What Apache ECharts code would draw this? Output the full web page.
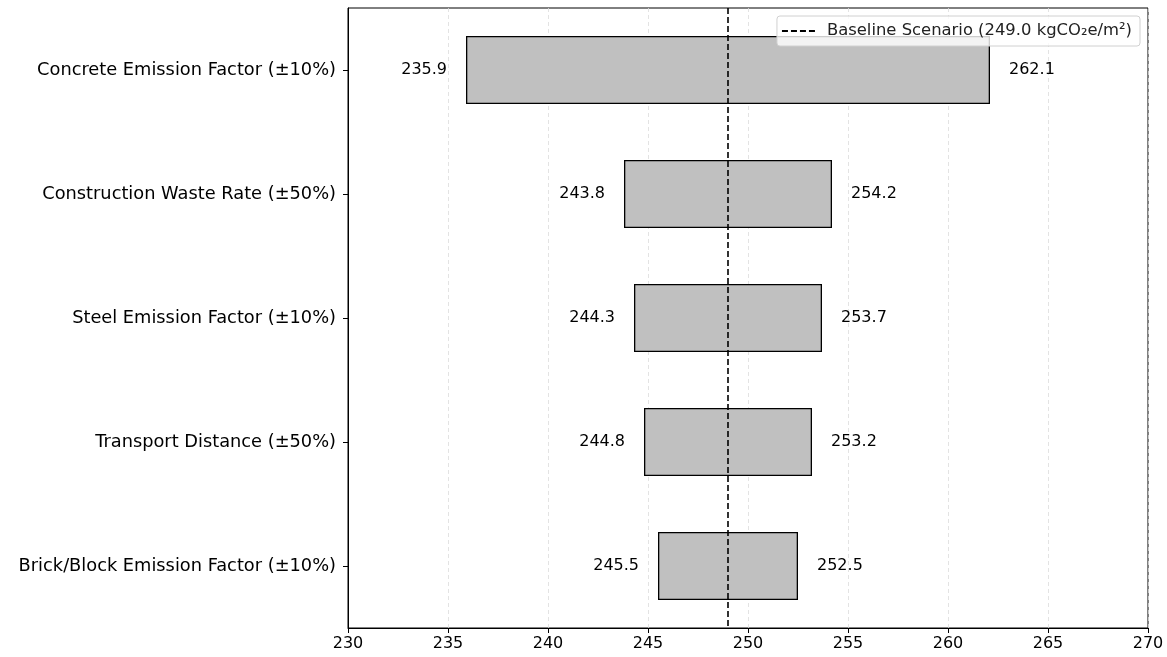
<!DOCTYPE html>
<html>
<head>
<meta charset="utf-8">
<script src="https://cdn.jsdelivr.net/npm/echarts@6/dist/echarts.min.js"></script>
<style>
  html, body { margin: 0; padding: 0; background: #fff; }
  #chart { width: 1167px; height: 657px; }
</style>
</head>
<body>
<div id="chart"></div>
<script>
const categories = [
  'Concrete Emission Factor (±10%)',
  'Construction Waste Rate (±50%)',
  'Steel Emission Factor (±10%)',
  'Transport Distance (±50%)',
  'Brick/Block Emission Factor (±10%)'
]
const lowValues = [235.9, 243.8, 244.3, 244.8, 245.5]
const highValues = [262.1, 254.2, 253.7, 253.2, 252.5]
const baseline = 249.0
const xTicks = [230, 270, 5]
const baselineName = 'Baseline Scenario (249.0 kgCO₂e/m²)'

const font = 'DejaVu Sans'
const spans = highValues.map((h, i) => +(h - lowValues[i]).toFixed(2))

const chart = echarts.init(document.getElementById('chart'))
chart.setOption({
  animation: false,
  textStyle: { fontFamily: font },
  grid: {
    left: 348, right: 19, top: 8, bottom: 29, containLabel: false,
    show: true, borderColor: '#000', borderWidth: 1, backgroundColor: 'transparent'
  },
  legend: {
    right: 27, top: 16,
    padding: [7, 8, 7, 4],
    borderColor: '#d0d0d0', borderWidth: 1, borderRadius: 3,
    backgroundColor: 'rgba(255,255,255,0.8)',
    itemWidth: 36, itemHeight: 10, itemGap: 10,
    itemStyle: { opacity: 0 },
    textStyle: { fontFamily: font, fontSize: 16.4, color: '#222', padding: [0, 0, 0, 4] },
    data: [{ name: baselineName }]
  },
  xAxis: {
    type: 'value',
    min: xTicks[0], max: xTicks[1], interval: xTicks[2],
    axisLine: { show: true, onZero: false, lineStyle: { color: '#000', width: 1 } },
    axisTick: { show: true, length: 5, lineStyle: { color: '#000' } },
    axisLabel: { color: '#000', fontSize: 16, margin: 8, fontFamily: font },
    splitLine: { show: true, lineStyle: { color: '#dcdcdc', type: [4, 3], width: 0.8 } }
  },
  yAxis: {
    type: 'category',
    data: categories,
    inverse: true,
    axisLine: { show: true, lineStyle: { color: '#000', width: 1 } },
    axisTick: { show: true, alignWithLabel: true, length: 5, lineStyle: { color: '#000' } },
    axisLabel: { color: '#000', fontSize: 17.8, margin: 12, fontFamily: font }
  },
  series: [
    {
      type: 'bar',
      stack: 'range',
      data: lowValues,
      barWidth: 68,
      itemStyle: { color: 'transparent' },
      label: {
        show: true, position: 'insideRight', distance: 19,
        formatter: p => p.value.toFixed(1),
        color: '#000', fontSize: 16, fontFamily: font
      },
      silent: true
    },
    {
      type: 'bar',
      stack: 'range',
      data: spans,
      barWidth: 68,
      itemStyle: { color: '#c0c0c0', borderColor: '#000', borderWidth: 1.3 },
      label: {
        show: true, position: 'right', distance: 19,
        formatter: p => highValues[p.dataIndex].toFixed(1),
        color: '#000', fontSize: 16, fontFamily: font
      },
      markLine: {
        symbol: 'none', silent: true,
        label: { show: false },
        lineStyle: { color: '#000', type: [6, 3], width: 1.6 },
        data: [{ xAxis: baseline }]
      },
      z: 3
    },
    {
      type: 'line',
      name: baselineName,
      data: [],
      symbol: 'none',
      itemStyle: { color: '#000' },
      lineStyle: { color: '#000', type: [6, 3], width: 1.6 }
    }
  ]
})
</script>
</body>
</html>
